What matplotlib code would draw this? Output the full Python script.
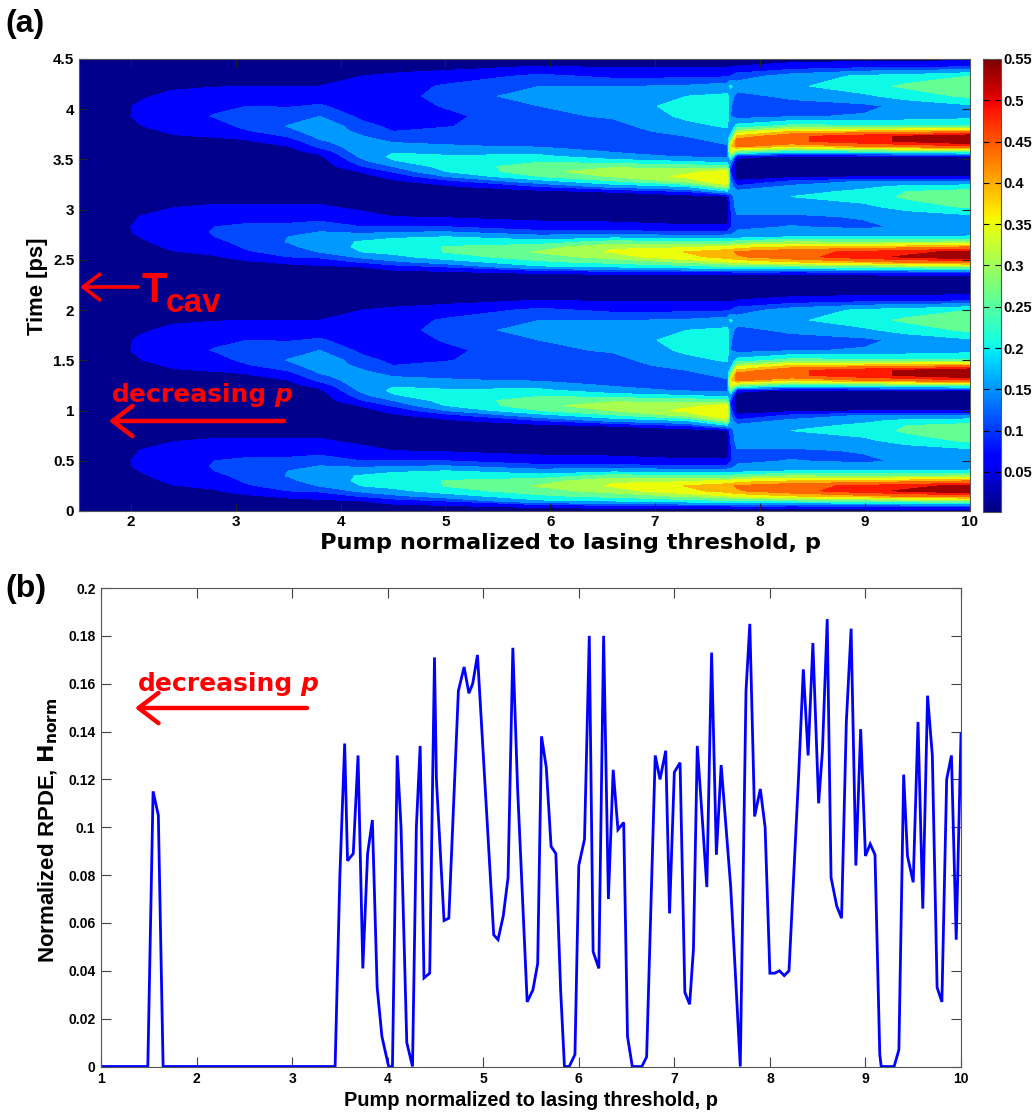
import numpy as np
import matplotlib
matplotlib.use("Agg")
import matplotlib.pyplot as plt
from matplotlib.cm import ScalarMappable
from matplotlib.colors import Normalize

plt.rcParams['font.family'] = ['Liberation Sans', 'DejaVu Sans']

# ---------- panel (a): one cavity period of the intensity map ----------
period = 2.33
time_one_period = [0, .05, .1, .15, .2, .25, .3, .35, .4, .45, .5, .6, .7, .8, .85, .9, .95, 1.0,
                   1.05, 1.1, 1.15, 1.2, 1.25, 1.3, 1.35, 1.4, 1.45, 1.5, 1.6, 1.7, 1.8, 1.9, 2.0, 2.1, 2.2]
pump_a = [1.5, 1.95, 2.1, 2.4, 2.8, 3.1, 3.5, 3.8, 4.2, 4.5, 5, 5.9, 6.6, 7.3, 7.69, 7.72, 7.78, 8.3, 9, 9.4, 10]
col_150 = [.004]*35
col_195 = [.005,.006,.007,.008,.01,.015,.02,.03,.036,.04,.04,.035,.02,.012,.01,.008,.008,.008,.008,.008,.01,.01,.012,.014,.018,.025,.03,.036,.04,.04,.03,.018,.01,.008,.006]
col_210 = [.006,.008,.01,.012,.017,.024,.033,.04,.047,.054,.055,.047,.03,.016,.012,.01,.009,.009,.009,.009,.011,.012,.014,.017,.022,.03,.036,.044,.055,.052,.04,.025,.014,.01,.007]
col_240 = [.008,.01,.014,.02,.032,.043,.052,.06,.066,.07,.07,.06,.043,.025,.018,.014,.012,.01,.01,.01,.012,.014,.018,.024,.032,.042,.05,.058,.068,.066,.055,.038,.02,.012,.009]
col_280 = [.01,.014,.02,.03,.042,.052,.065,.078,.09,.093,.09,.072,.05,.028,.02,.016,.013,.012,.012,.012,.014,.016,.02,.028,.037,.047,.06,.072,.093,.08,.064,.043,.024,.014,.011]
col_310 = [.011,.016,.026,.04,.06,.085,.096,.105,.11,.108,.097,.075,.05,.028,.02,.016,.014,.012,.013,.013,.015,.018,.023,.03,.04,.055,.085,.1,.108,.09,.066,.044,.024,.014,.011]
col_350 = [.012,.018,.035,.052,.09,.105,.12,.132,.13,.115,.098,.075,.05,.028,.02,.016,.014,.013,.014,.015,.018,.023,.032,.044,.065,.093,.115,.132,.115,.087,.068,.045,.024,.015,.012]
col_380 = [.013,.02,.036,.065,.097,.132,.15,.155,.145,.13,.105,.078,.05,.028,.02,.016,.014,.014,.016,.018,.022,.035,.06,.1,.125,.14,.155,.165,.13,.095,.07,.045,.024,.015,.012]
col_420 = [.014,.025,.045,.095,.14,.18,.19,.185,.15,.12,.09,.058,.035,.022,.018,.016,.02,.03,.048,.088,.115,.14,.158,.158,.148,.133,.12,.105,.08,.07,.065,.06,.045,.02,.013]
col_450 = [.014,.03,.07,.12,.165,.195,.205,.2,.17,.125,.09,.045,.03,.02,.018,.02,.035,.06,.095,.13,.175,.19,.175,.145,.125,.105,.09,.08,.07,.07,.072,.068,.052,.028,.014]
col_500 = [.012,.04,.09,.155,.205,.232,.232,.21,.18,.13,.09,.04,.025,.018,.02,.035,.07,.13,.18,.2,.205,.185,.165,.135,.12,.11,.098,.088,.08,.093,.105,.096,.065,.03,.015]
col_590 = [.012,.06,.17,.22,.26,.285,.26,.2,.145,.1,.065,.03,.02,.016,.03,.09,.155,.23,.265,.255,.225,.19,.16,.125,.115,.108,.105,.11,.12,.13,.15,.13,.1,.045,.015]
col_660 = [.012,.075,.18,.25,.3,.325,.315,.25,.16,.1,.06,.028,.018,.014,.05,.145,.22,.285,.31,.27,.2,.15,.125,.11,.105,.105,.108,.115,.135,.15,.17,.127,.08,.038,.015]
col_730 = [.012,.085,.205,.29,.355,.372,.31,.23,.145,.09,.05,.025,.016,.02,.09,.18,.29,.33,.31,.255,.18,.125,.105,.105,.115,.13,.15,.165,.19,.2,.18,.135,.08,.038,.015]
col_769 = [.012,.09,.22,.32,.39,.4,.33,.24,.15,.095,.05,.025,.016,.035,.17,.3,.36,.365,.335,.245,.16,.12,.11,.125,.14,.155,.17,.185,.205,.21,.19,.15,.085,.04,.015]
col_772 = [.012,.09,.22,.33,.395,.4,.33,.24,.15,.1,.085,.08,.09,.11,.14,.15,.14,.1,.09,.1,.15,.25,.34,.36,.3,.2,.15,.14,.13,.135,.15,.19,.09,.04,.015]
col_778 = [.012,.095,.23,.34,.405,.415,.35,.25,.155,.135,.12,.125,.15,.15,.14,.1,.05,.03,.018,.015,.02,.06,.27,.42,.44,.38,.3,.2,.11,.105,.115,.15,.11,.045,.015]
col_830 = [.012,.09,.23,.37,.44,.445,.37,.28,.18,.14,.132,.12,.16,.18,.165,.14,.1,.03,.018,.014,.015,.035,.2,.37,.45,.45,.37,.25,.125,.11,.14,.17,.15,.06,.015]
col_900 = [.012,.095,.25,.4,.49,.47,.38,.27,.18,.145,.12,.135,.17,.2,.19,.17,.135,.04,.015,.012,.013,.04,.22,.41,.49,.49,.38,.24,.135,.118,.17,.21,.19,.07,.015]
col_940 = [.012,.1,.26,.42,.505,.49,.39,.27,.18,.15,.14,.15,.2,.24,.23,.19,.14,.04,.014,.011,.012,.04,.23,.43,.505,.505,.39,.24,.145,.145,.2,.24,.2,.07,.015]
col_1000 = [.012,.11,.28,.44,.54,.51,.41,.28,.185,.155,.15,.165,.24,.275,.25,.2,.14,.04,.013,.01,.011,.04,.25,.45,.54,.54,.4,.24,.16,.17,.24,.275,.23,.08,.015]
columns_a = [col_150, col_195, col_210, col_240, col_280, col_310, col_350, col_380, col_420, col_450, col_500, col_590,
             col_660, col_730, col_769, col_772, col_778, col_830, col_900, col_940, col_1000]
levels_a = [0, .045, .09, .13, .18, .23, .28, .32, .37, .41, .46, .5, .56]
band_values = [.008, .068, .11, .152, .205, .26, .305, .35, .395, .44, .485, .535]
cbar_ticks = [.05, .1, .15, .2, .25, .3, .35, .4, .45, .5, .55]
cbar_labels = ['0.05', '0.1', '0.15', '0.2', '0.25', '0.3', '0.35', '0.4', '0.45', '0.5', '0.55']

# ---------- panel (b): RPDE curve ----------
pump_b = [1, 1.49, 1.545, 1.6, 1.65, 3.45, 3.5, 3.55, 3.58, 3.64, 3.69, 3.74, 3.79, 3.84, 3.89, 3.94, 4.01, 4.05, 4.10,
          4.14, 4.2, 4.26, 4.3, 4.34, 4.38, 4.44, 4.49, 4.51, 4.59, 4.64, 4.74, 4.8, 4.85, 4.89, 4.94, 5.11, 5.155,
          5.21, 5.26, 5.31, 5.36, 5.46, 5.52, 5.57, 5.61, 5.66, 5.71, 5.76, 5.81, 5.85, 5.9, 5.96, 6.0, 6.06, 6.11,
          6.15, 6.21, 6.26, 6.31, 6.36, 6.41, 6.47, 6.51, 6.56, 6.66, 6.71, 6.8, 6.85, 6.91, 6.95, 7.0, 7.06, 7.11,
          7.16, 7.2, 7.24, 7.29, 7.34, 7.39, 7.44, 7.49, 7.59, 7.64, 7.69, 7.75, 7.79, 7.84, 7.9, 7.95, 8.0, 8.05,
          8.1, 8.15, 8.2, 8.3, 8.35, 8.4, 8.45, 8.51, 8.55, 8.6, 8.64, 8.7, 8.75, 8.8, 8.85, 8.9, 8.95, 9.0, 9.05,
          9.1, 9.15, 9.165, 9.3, 9.35, 9.4, 9.44, 9.5, 9.55, 9.6, 9.65, 9.7, 9.75, 9.8, 9.85, 9.9, 9.95, 10]
rpde = [0, 0, .115, .105, 0, 0, .08, .135, .086, .089, .13, .041, .089, .103, .033, .0125, 0, 0, .13,
        .10, .01, 0, .1, .134, .037, .039, .171, .12, .061, .062, .157, .167, .156, .16, .172, .055, .053,
        .063, .079, .175, .116, .027, .032, .043, .138, .125, .092, .089, .032, 0, 0, .005, .084, .095, .18,
        .048, .041, .18, .07, .124, .099, .102, .0125, 0, 0, .004, .13, .12, .132, .064, .123, .127, .031,
        .026, .049, .134, .105, .075, .173, .0885, .126, .075, .038, 0, .157, .185, .1045, .116, .1, .039, .039,
        .04, .038, .04, .121, .166, .13, .177, .11, .132, .187, .079, .067, .062, .144, .183, .084, .141, .088, .093,
        .0885, .005, 0, 0, .007, .122, .088, .077, .144, .066, .155, .13, .033, .027, .12, .13, .053, .139]
yticks_b = [0, .02, .04, .06, .08, .1, .12, .14, .16, .18, .2]
ylabels_b = ['0', '0.02', '0.04', '0.06', '0.08', '0.1', '0.12', '0.14', '0.16', '0.18', '0.2']
yticks_a = [0, .5, 1, 1.5, 2, 2.5, 3, 3.5, 4, 4.5]
ylabels_a = ['0', '0.5', '1', '1.5', '2', '2.5', '3', '3.5', '4', '4.5']

W, H = 1032, 1114
fig = plt.figure(figsize=(W/100, H/100), dpi=100)

def box(l, t, r, b):
    return [l/W, 1-b/H, (r-l)/W, (b-t)/H]

def put(x, y, s, **kw):
    return fig.text(x/W, 1-y/H, s, **kw)

def arrow(x0, y0, x1, y1, lw=3.2, ms=26):
    fig.add_artist(matplotlib.patches.FancyArrowPatch(
        (x0/W, 1-y0/H), (x1/W, 1-y1/H), transform=fig.transFigure,
        arrowstyle='->,head_length=0.55,head_width=0.42', mutation_scale=ms,
        color='#ff0000', lw=lw, shrinkA=0, shrinkB=0, zorder=10))

grey = '#555555'
wide = ['DejaVu Sans']

# panel (a)
ax_a = fig.add_axes(box(78.5, 59, 969.5, 511))
one = np.array(columns_a).T
t_all = np.concatenate([np.array(time_one_period), np.array(time_one_period) + period])
z_all = np.vstack([one, one])
norm = Normalize(.0015, .55)
band_colors = [plt.get_cmap('jet')(norm(v)) for v in band_values]
ax_a.contourf(pump_a, t_all, z_all, levels=levels_a, colors=band_colors)
ax_a.set_xlim(1.5, 10)
ax_a.set_ylim(0, 4.5)
ax_a.set_xticks(range(2, 11))
ax_a.set_yticks(yticks_a)
ax_a.set_yticklabels(ylabels_a)
ax_a.tick_params(direction='in', top=True, right=True, length=6, width=.8, labelsize=11, pad=3, color='#222222')
for lab in ax_a.get_xticklabels() + ax_a.get_yticklabels():
    lab.set_fontweight('bold')
for s in ax_a.spines.values():
    s.set_color(grey)

cax = fig.add_axes(box(983, 59, 1001, 512))
cb = fig.colorbar(ScalarMappable(norm=norm, cmap='jet'), cax=cax)
cb.set_ticks(cbar_ticks)
cb.set_ticklabels(cbar_labels)
cax.tick_params(direction='in', left=True, right=True, length=4, width=.8, labelsize=10.5, pad=2)
for lab in cax.get_yticklabels():
    lab.set_fontweight('bold')
cb.outline.set_edgecolor(grey)

put(570.5, 549, 'Pump normalized to lasing threshold, p', ha='center', va='baseline', fontsize=16.2, fontweight='bold', family=wide)
put(38, 286, 'Time [ps]', ha='center', va='center', rotation=90, fontsize=15.8, fontweight='bold')
put(5, 32, '(a)', fontsize=23, fontweight='bold', va='baseline')
put(5, 597, '(b)', fontsize=23, fontweight='bold', va='baseline')

# panel (b)
ax_b = fig.add_axes(box(101, 588, 961, 1066.5))
ax_b.plot(pump_b, rpde, color='#0000ff', lw=2.0, solid_joinstyle='miter')
ax_b.set_xlim(1, 10)
ax_b.set_ylim(0, .2)
ax_b.set_xticks(range(1, 11))
ax_b.set_yticks(yticks_b)
ax_b.set_yticklabels(ylabels_b)
ax_b.tick_params(direction='in', top=True, right=True, length=7, width=.8, labelsize=10, pad=4, color='#444444')
for lab in ax_b.get_xticklabels() + ax_b.get_yticklabels():
    lab.set_fontweight('bold')
for s in ax_b.spines.values():
    s.set_color(grey)

put(531, 1106, 'Pump normalized to lasing threshold, p', ha='center', va='baseline', fontsize=14.4, fontweight='bold')
put(48, 830, 'Normalized RPDE, $\\mathbf{H_{norm}}$', ha='center', va='center', rotation=90, fontsize=16, fontweight='bold')

# red annotations
red = '#ff0000'
arrow(138, 287, 80, 287, lw=2.6, ms=22)
put(141, 302, 'T', color=red, fontsize=30, fontweight='bold', va='baseline')
put(166, 312, 'cav', color=red, fontsize=24, fontweight='bold', va='baseline')
put(112, 402, 'decreasing', color=red, fontsize=18, fontweight='bold', va='baseline', family=wide)
put(274, 402, 'p', color=red, fontsize=18, fontweight='bold', style='italic', va='baseline', family=wide)
arrow(284, 421, 109, 421, lw=3.2, ms=26)
put(138, 691, 'decreasing', color=red, fontsize=18, fontweight='bold', va='baseline', family=wide)
put(300, 691, 'p', color=red, fontsize=18, fontweight='bold', style='italic', va='baseline', family=wide)
arrow(307, 708, 135, 708, lw=3.2, ms=26)

fig.savefig('out.png', dpi=100)
